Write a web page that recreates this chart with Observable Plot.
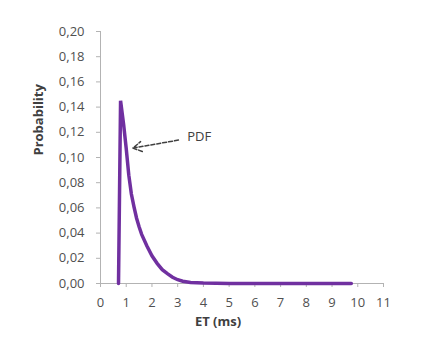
<!DOCTYPE html>
<html>
<head>
<meta charset="utf-8">
<script src="https://cdn.jsdelivr.net/npm/d3@7"></script>
<script src="https://cdn.jsdelivr.net/npm/@observablehq/plot@0.6"></script>
<style>
  html, body { margin: 0; padding: 0; background: #fff; }
  #chart { width: 441px; height: 341px; }
</style>
</head>
<body>
<div id="chart"></div>
<script>
// ET (ms) values and PDF probabilities
const et = [0.7, 0.78, 0.9, 1.0, 1.1, 1.2, 1.3, 1.4, 1.5, 1.6, 1.8, 2.0, 2.2, 2.4, 2.6, 2.8, 3.0, 3.2, 3.5, 4.0, 5, 6, 7, 8, 9, 9.75];
const prob = [0, 0.145, 0.126, 0.107, 0.086, 0.071, 0.061, 0.052, 0.045, 0.039, 0.030, 0.022, 0.016, 0.011, 0.0078, 0.005, 0.003, 0.0018, 0.0008, 0.0003, 0, 0, 0, 0, 0, 0];

const xTicks = [0, 1, 2, 3, 4, 5, 6, 7, 8, 9, 10, 11];
const yTicks = [0, 0.02, 0.04, 0.06, 0.08, 0.10, 0.12, 0.14, 0.16, 0.18, 0.20];

const seriesLabel = "PDF";
const xTitle = "ET (ms)";
const yTitle = "Probability";

// annotation anchor (data coordinates)
const arrowFrom = {x: 3.03, y: 0.1138};
const arrowTo = {x: 1.26, y: 0.1075};
const labelAt = {x: 3.37, y: 0.1165};

const data = et.map((x, i) => ({x, y: prob[i]}));
const fmt = d => d3.format(".2f")(d).replace(".", ",");

const axisGray = "#b3b3b3";
const textGray = "#505050";

const chart = Plot.plot({
  width: 441,
  height: 341,
  marginLeft: 100,
  marginRight: 58,
  marginTop: 31,
  marginBottom: 58,
  style: {fontFamily: "'Open Sans', sans-serif", fontSize: "13px", color: textGray, background: "#fff"},
  x: {domain: [0, 11]},
  y: {domain: [0, 0.20]},
  marks: [
    Plot.ruleX([0], {stroke: axisGray, strokeWidth: 1}),
    Plot.ruleY([0], {stroke: axisGray, strokeWidth: 1}),
    Plot.axisX({ticks: xTicks, tickSize: 4, tickPadding: 10, stroke: axisGray, fill: textGray, label: null, fontSize: 13, tickFormat: d => d}),
    Plot.axisY({ticks: yTicks, tickSize: 4, tickPadding: 12, stroke: axisGray, fill: textGray, label: null, fontSize: 13, tickFormat: fmt}),
    Plot.line(data, {x: "x", y: "y", stroke: "#7030a0", strokeWidth: 3.5, strokeLinejoin: "miter", strokeMiterlimit: 10}),
    Plot.arrow([0], {x1: () => arrowFrom.x, y1: () => arrowFrom.y, x2: () => arrowTo.x, y2: () => arrowTo.y,
      stroke: "#404040", strokeWidth: 1.5, strokeDasharray: "4,2", headLength: 10, bend: 0}),
    Plot.text([seriesLabel], {x: () => labelAt.x, y: () => labelAt.y, text: d => d, textAnchor: "start", fill: "#404040", fontSize: 13}),
    Plot.text([xTitle], {frameAnchor: "bottom", text: d => d, dx: -24, dy: 42, fontWeight: "bold", fill: "#404040", fontSize: 13}),
    Plot.text([yTitle], {frameAnchor: "left", text: d => d, rotate: -90, dx: -61.5, dy: -2, fontWeight: "bold", fill: "#404040", fontSize: 13})
  ]
});
document.getElementById("chart").appendChild(chart);
</script>
</body>
</html>
